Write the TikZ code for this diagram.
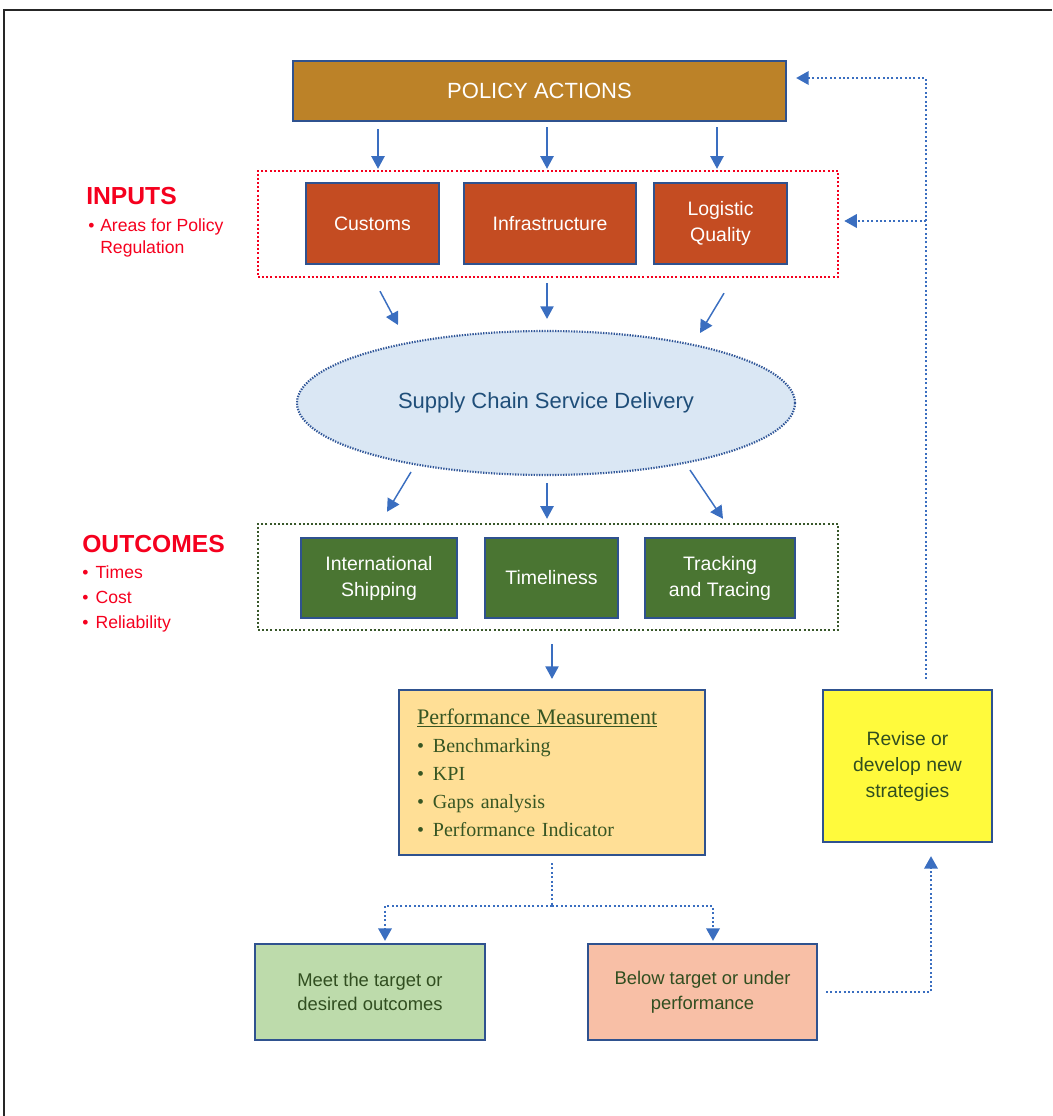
\documentclass[tikz,border=0pt]{standalone}
\usepackage{fontspec}
\setmainfont{Liberation Sans}
\newfontfamily\pmserif{Liberation Serif}
\usetikzlibrary{arrows.meta,shapes.geometric,calc}
\definecolor{bordblue}{HTML}{2F528F}
\definecolor{arrblue}{HTML}{3A6EC0}
\definecolor{policyfill}{HTML}{BC8228}
\definecolor{inputfill}{HTML}{C44C22}
\definecolor{outfill}{HTML}{4A7532}
\definecolor{outdot}{HTML}{38572A}
\definecolor{ellfill}{HTML}{DAE7F4}
\definecolor{elldraw}{HTML}{2F5597}
\definecolor{elltext}{HTML}{1F4E79}
\definecolor{pmfill}{HTML}{FFDF96}
\definecolor{dkgreen}{HTML}{375623}
\definecolor{meetfill}{HTML}{BDDBAB}
\definecolor{belowfill}{HTML}{F8BFA6}
\definecolor{revfill}{HTML}{FFFA3C}
\definecolor{labred}{HTML}{F5001E}
\tikzset{
  box/.style={draw=bordblue, line width=1.6pt, inner sep=0pt, align=center},
  inbox/.style={box, fill=inputfill, text=white, font=\fontsize{14.6}{19.5}\selectfont},
  outbx/.style={box, fill=outfill, text=white, font=\fontsize{14.6}{19.5}\selectfont},
  lowbox/.style={box, text=dkgreen!90!black, font=\fontsize{13.8}{18.5}\selectfont},
  arr/.style={draw=arrblue, line width=1.1pt, -{Triangle[width=10pt,length=9.5pt]}},
  dotarr/.style={draw=arrblue, line width=2pt, dash pattern=on 1.5pt off 1.8pt, -{Triangle[width=10pt,length=9.5pt]}},
  dotline/.style={draw=arrblue, line width=2pt, dash pattern=on 1.5pt off 1.8pt},
}
\begin{document}
\begin{tikzpicture}[x=0.75pt,y=-0.75pt]
\useasboundingbox (0,0) rectangle (1052,1116);
% frame
\draw[line width=1.6pt, black!85] (4,1116) -- (4,10) -- (1052,10);

% policy
\node[box, fill=policyfill, text=white, font=\fontsize{16.5}{20}\selectfont,
  minimum width=493*0.75pt, minimum height=60*0.75pt] (policy) at (539.5,91) {POLICY ACTIONS};

% inputs group
\node[draw=labred, line width=1.8pt, dash pattern=on 1.5pt off 1.6pt,
  minimum width=580*0.75pt, minimum height=106*0.75pt, inner sep=0pt] (ingroup) at (548,224) {};
\node[inbox, minimum width=133*0.75pt, minimum height=81*0.75pt] (customs) at (372.5,223.5) {Customs};
\node[inbox, minimum width=172*0.75pt, minimum height=81*0.75pt] (infra) at (550,223.5) {Infrastructure};
\node[inbox, minimum width=133*0.75pt, minimum height=81*0.75pt] (logistic) at (720.5,223.5) {Logistic\\Quality};

\node[anchor=west, inner sep=0pt, text=labred, font=\bfseries\fontsize{18.5}{20}\selectfont] (inlab) at (86,196) {INPUTS};
\node[anchor=north west, inner sep=0pt, text=labred, align=left, font=\fontsize{13.2}{16.5}\selectfont] (inlist) at (88,218)
  {\makebox[9pt][l]{•}Areas for Policy\\\hspace*{9pt}Regulation};

% ellipse
\node[ellipse, draw=elldraw, line width=1.6pt, dash pattern=on 1pt off 1pt, fill=ellfill,
  minimum width=498*0.75pt, minimum height=144*0.75pt, inner sep=0pt, text=elltext,
  font=\fontsize{16.5}{20}\selectfont] (ell) at (546,403) {Supply Chain Service Delivery};

% outcomes group
\node[draw=outdot, line width=1.8pt, dash pattern=on 1.5pt off 1.6pt,
  minimum width=580*0.75pt, minimum height=106*0.75pt, inner sep=0pt] (outgroup) at (548,577) {};
\node[outbx, minimum width=156*0.75pt, minimum height=80*0.75pt] (intl) at (379,578) {International\\Shipping};
\node[outbx, minimum width=133*0.75pt, minimum height=80*0.75pt] (timely) at (551.5,578) {Timeliness};
\node[outbx, minimum width=150*0.75pt, minimum height=80*0.75pt] (track) at (720,578) {Tracking\\and Tracing};

\node[anchor=west, inner sep=0pt, text=labred, font=\bfseries\fontsize{18.5}{20}\selectfont] (outlab) at (82,544) {OUTCOMES};
\node[anchor=north west, inner sep=0pt, text=labred, align=left, font=\fontsize{13.2}{18.8}\selectfont] (outlist) at (82,565)
  {\makebox[10pt][l]{•}Times\\\makebox[10pt][l]{•}Cost\\\makebox[10pt][l]{•}Reliability};

% performance measurement
\node[box, fill=pmfill, text=dkgreen, align=left, text width=270*0.75pt, inner xsep=18*0.75pt,
  minimum width=306*0.75pt, minimum height=165*0.75pt,
  font=\pmserif\fontsize{15}{21}\selectfont] (pm) at (552,772.5)
  {{\fontsize{16.6}{21}\selectfont\underline{Performance Measurement}}\\
   \makebox[12pt][l]{•}Benchmarking\\
   \makebox[12pt][l]{•}KPI\\
   \makebox[12pt][l]{•}Gaps analysis\\
   \makebox[12pt][l]{•}Performance Indicator};

% lower boxes
\node[lowbox, fill=meetfill, minimum width=230*0.75pt, minimum height=96*0.75pt] (meet) at (370,992) {Meet the target or\\desired outcomes};
\node[lowbox, fill=belowfill, minimum width=229*0.75pt, minimum height=96*0.75pt] (below) at (702.5,992) {Below target or under\\performance};
\node[box, fill=revfill, text=dkgreen!90!black, font=\fontsize{14.5}{19.5}\selectfont,
  minimum width=169*0.75pt, minimum height=152*0.75pt] (revise) at (907.5,766) {Revise or\\develop new\\strategies};

% arrows policy -> inputs
\draw[arr] ($(policy.south)+(-161.5,7)$) -- ($(ingroup.north)+(-170,-1)$);
\draw[arr] ($(policy.south)+(7.5,5)$) -- ($(ingroup.north)+(-1,-1)$);
\draw[arr] ($(policy.south)+(177.5,5)$) -- ($(ingroup.north)+(169,-1)$);

% inputs -> ellipse
\draw[arr] ($(ingroup.south)+(-168,13)$) -- ($(ell.center)+(-148,-78)$);
\draw[arr] ($(ingroup.south)+(-1,5)$) -- ($(ell.north)+(1,-11)$);
\draw[arr] ($(ingroup.south)+(176,15)$) -- ($(ell.center)+(154,-70)$);

% ellipse -> outcomes
\draw[arr] ($(ell.center)+(-135,69)$) -- ($(outgroup.north)+(-161,-11)$);
\draw[arr] ($(ell.south)+(1,7)$) -- ($(outgroup.north)+(-1,-4)$);
\draw[arr] ($(ell.center)+(144,67)$) -- ($(outgroup.north)+(175,-4)$);

% outcomes -> pm
\draw[arr] ($(outgroup.south)+(4,13)$) -- ($(pm.north)+(0,-10)$);

% pm -> meet / below
\draw[dotline] ($(pm.south)+(0,7)$) -- ($(pm.south)+(0,50)$);
\draw[dotarr] ($(pm.south)+(0,50)$) -| ($(meet.north)+(15,-2)$);
\draw[dotarr] ($(pm.south)+(0,50)$) -| ($(below.north)+(10.5,-2)$);

% below -> revise
\draw[dotarr] ($(below.east)+(8,0)$) -| ($(revise.south)+(23.5,13)$);

% revise -> policy / inputs
\coordinate (fb) at ($(revise.north)+(18.5,-10)$);
\draw[dotarr] (fb) |- ($(policy.east)+(9,-13)$);
\coordinate (branch) at (fb |- ingroup.east);
\draw[dotarr] ($(branch)+(0,-3)$) -- ($(ingroup.east)+(5,-3)$);
\end{tikzpicture}
\end{document}
